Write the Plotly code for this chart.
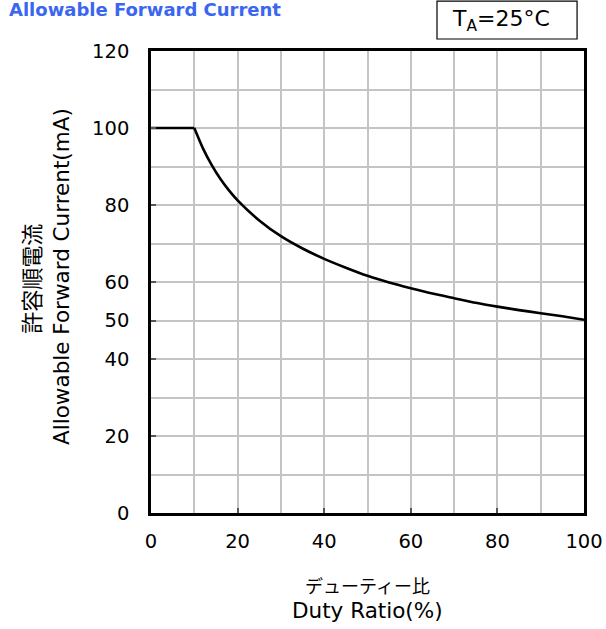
import plotly.graph_objects as go

# Data
duty_ratio = [0, 10, 12, 14, 16, 18, 20, 25, 30, 35, 40, 45, 50, 55, 60, 65, 70, 75, 80, 85, 90, 95, 100]
current_ma = [100, 100, 94.7, 90.4, 86.8, 83.8, 81.2, 76.0, 71.9, 68.7, 66.0, 63.7, 61.6, 59.9, 58.4, 57.0, 55.8, 54.6, 53.6, 52.7, 51.9, 51.1, 50.2]

x_ticks = [0, 20, 40, 60, 80, 100]
y_ticks = [0, 20, 40, 50, 60, 80, 100, 120]

FONT = "DejaVu Sans, Verdana, Noto Sans CJK JP, sans-serif"
JFONT = "Noto Sans CJK JP, DejaVu Sans, sans-serif"
GRID = "#c4c4c4"

fig = go.Figure()
fig.add_trace(go.Scatter(
    x=duty_ratio[:2], y=current_ma[:2], mode="lines",
    line=dict(color="black", width=2.6), showlegend=False, hoverinfo="skip"))
fig.add_trace(go.Scatter(
    x=duty_ratio[1:], y=current_ma[1:], mode="lines",
    line=dict(color="black", width=2.6, shape="spline", smoothing=0.6),
    showlegend=False))

fig.update_layout(
    width=606, height=629, autosize=False,
    margin=dict(l=151, r=22, t=51, b=116),
    plot_bgcolor="white", paper_bgcolor="white",
    font=dict(family=FONT, size=19.5, color="black"),
    xaxis=dict(
        range=[0, 100], tickvals=x_ticks, ticks="inside", ticklen=5, tickwidth=1.5,
        tickcolor="#555", showline=True, linecolor="black", linewidth=2.5, mirror=True,
        showgrid=True, gridcolor=GRID, gridwidth=1.5,
        minor=dict(tick0=0, dtick=10, showgrid=True, gridcolor=GRID, gridwidth=1.5),
        zeroline=False, ticklabelstandoff=9, tickfont=dict(size=19.5), automargin=False,
    ),
    yaxis=dict(
        range=[0, 120], tickvals=y_ticks, ticks="inside", ticklen=5, tickwidth=1.5,
        tickcolor="#555", showline=True, linecolor="black", linewidth=2.5, mirror=True,
        showgrid=True, gridcolor=GRID, gridwidth=1.5,
        minor=dict(tick0=0, dtick=10, showgrid=True, gridcolor=GRID, gridwidth=1.5),
        zeroline=False, ticklabelstandoff=15, tickfont=dict(size=19.5), automargin=False,
    ),
)

# Title
fig.add_annotation(
    text="<b>Allowable Forward Current</b>", xref="paper", yref="paper",
    x=-0.332, y=1.089, xanchor="left", yanchor="middle", showarrow=False,
    font=dict(family=FONT, size=18, color="#3a66f0"))

# Condition box
fig.add_shape(type="rect", xref="paper", yref="paper",
              x0=0.6605, x1=0.984, y0=1.026, y1=1.108,
              line=dict(color="black", width=1.2), fillcolor="white")
fig.add_annotation(
    text="T<sub>A</sub>=25°C", xref="paper", yref="paper",
    x=0.808, y=1.065, xanchor="center", yanchor="middle", showarrow=False,
    font=dict(family=FONT, size=22))

# Y axis titles
fig.add_annotation(
    text="許容順電流", xref="paper", yref="paper",
    x=-0.278, y=0.506, textangle=-90, xanchor="center", yanchor="middle",
    showarrow=False, font=dict(family=JFONT, size=22))
fig.add_annotation(
    text="Allowable Forward Current(mA)", xref="paper", yref="paper",
    x=-0.2055, y=0.511, textangle=-90, xanchor="center", yanchor="middle",
    showarrow=False, font=dict(family=FONT, size=21.5))

# X axis titles
fig.add_annotation(
    text="デューティー比", xref="paper", yref="paper",
    x=0.5, y=-0.156, xanchor="center", yanchor="middle",
    showarrow=False, font=dict(family=JFONT, size=18))
fig.add_annotation(
    text="Duty Ratio(%)", xref="paper", yref="paper",
    x=0.5, y=-0.210, xanchor="center", yanchor="middle",
    showarrow=False, font=dict(family=FONT, size=21.5))

fig.write_html(
    "out.html",
    config={"displayModeBar": False, "responsive": False},
    post_script="document.body.style.margin='0';document.body.style.overflow='hidden';",
)
